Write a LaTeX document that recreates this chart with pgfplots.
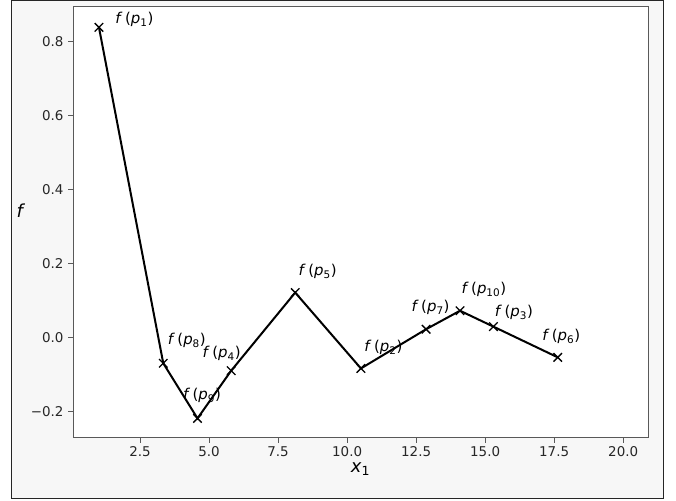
\documentclass[border=0pt]{standalone}
\usepackage{pgfplots}
\pgfplotsset{compat=1.18}
\usepackage{fontspec}
\setmainfont{DejaVu Sans}
\newcommand{\fp}[1]{{\fontsize{15}{17}\selectfont\textit{f}\,(\textit{p}\textsubscript{#1})}}
\begin{document}
\begin{tikzpicture}[x=1bp,y=1bp]
\path (0,0) rectangle (676,501);
\draw[fill=black!3, draw=black!85, line width=1bp] (11,2) rectangle (663,500);
\begin{axis}[
  at={(73bp,63bp)}, anchor=south west, scale only axis,
  width=575bp, height=431bp,
  xmin=0.07, xmax=20.9, ymin=-0.271, ymax=0.894,
  axis background/.style={fill=white},
  axis line style={black!65, line width=1bp},
  xtick={2.5,5,7.5,10,12.5,15,17.5,20},
  xticklabels={2.5,5.0,7.5,10.0,12.5,15.0,17.5,20.0},
  ytick={-0.2,0,0.2,0.4,0.6,0.8},
  yticklabels={−0.2,0.0,0.2,0.4,0.6,0.8},
  tick align=outside, tick pos=left, major tick length=5bp,
  tick style={black!65, line width=1bp},
  ticklabel style={font=\fontsize{13.5}{15}\selectfont, text=black!85},
  yticklabel style={xshift=-1bp},
  xlabel={\textit{x}\textsubscript{1}},
  ylabel={\textit{f}},
  label style={font=\fontsize{18}{20}\selectfont},
  xlabel style={at={(axis description cs:0.5,0)}, anchor=center, yshift=-31bp},
  ylabel style={rotate=-90, at={(axis description cs:0,0.527)}, anchor=center, xshift=-52bp},
  clip=false,
]
\addplot[black, line width=2bp, mark=x, mark size=6bp, mark options={line width=1.3bp}] coordinates {
(1.01,0.839) (3.34,-0.069) (4.58,-0.218) (5.80,-0.089) (8.12,0.122)
(10.50,-0.083) (12.86,0.023) (14.09,0.073) (15.30,0.030) (17.63,-0.053)
};
\node[anchor=west, xshift=13bp, yshift=8bp] at (axis cs:1.01,0.839) {\fp{1}};
\node[anchor=west, xshift=1bp, yshift=23bp] at (axis cs:3.34,-0.069) {\fp{8}};
\node[anchor=west, xshift=-18bp, yshift=23bp] at (axis cs:4.58,-0.218) {\fp{9}};
\node[anchor=west, xshift=-32bp, yshift=17bp] at (axis cs:5.80,-0.089) {\fp{4}};
\node[anchor=west, xshift=0bp, yshift=21bp] at (axis cs:8.12,0.122) {\fp{5}};
\node[anchor=west, xshift=0bp, yshift=21bp] at (axis cs:10.50,-0.083) {\fp{2}};
\node[anchor=west, xshift=-18bp, yshift=22bp] at (axis cs:12.86,0.023) {\fp{7}};
\node[anchor=west, xshift=-2bp, yshift=21bp] at (axis cs:14.09,0.073) {\fp{10}};
\node[anchor=west, xshift=-2bp, yshift=14bp] at (axis cs:15.30,0.030) {\fp{3}};
\node[anchor=west, xshift=-19bp, yshift=21bp] at (axis cs:17.63,-0.053) {\fp{6}};
\end{axis}
\end{tikzpicture}
\end{document}
